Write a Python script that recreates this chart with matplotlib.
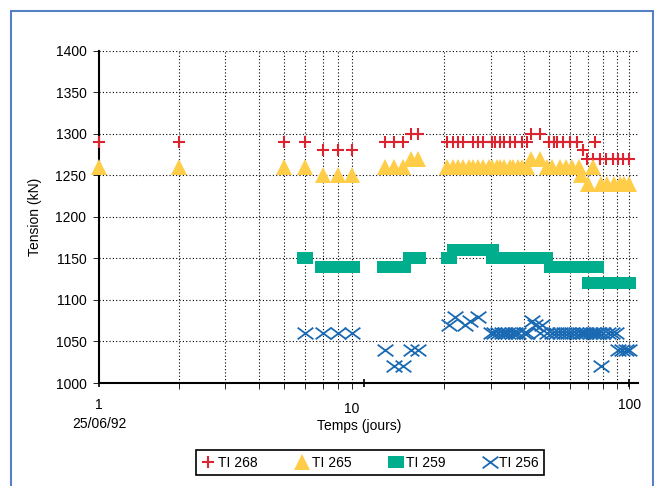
import numpy as np
import matplotlib
matplotlib.use('Agg')
import matplotlib.pyplot as plt
import matplotlib.transforms as mtransforms
from matplotlib.path import Path
from matplotlib.patches import Rectangle

plt.rcParams['font.family'] = ['Liberation Sans', 'DejaVu Sans']
plt.rcParams['font.size'] = 10

# TI 268 (red +)
x268 = [1, 2, 5, 6, 7, 8, 9, 12, 13, 14, 15, 16,
        20.5, 21.6, 22.6, 23.6, 25.7, 27, 28, 30.4, 31.3, 32.6, 33.8, 35.5, 37, 39.5, 41.3,
        42.6, 46.3, 49.8, 52, 53.5, 56.5, 60, 63.8, 66.8, 74.3,
        69.6, 73, 77.7, 82, 86.7, 91, 95.2, 100]
y268 = [1290, 1290, 1290, 1290, 1280, 1280, 1280, 1290, 1290, 1290, 1300, 1300,
        1290, 1290, 1290, 1290, 1290, 1290, 1290, 1290, 1290, 1290, 1290, 1290, 1290, 1290, 1290,
        1300, 1300, 1290, 1290, 1290, 1290, 1290, 1290, 1280, 1290,
        1270, 1270, 1270, 1270, 1270, 1270, 1270, 1270]

# TI 265 (yellow triangles)
x265 = [1, 2, 5, 6, 7, 8, 9, 12, 13, 14, 15, 16,
        20.5, 21.6, 22.6, 23.6, 24.8, 25.7, 27, 28, 29.5, 30.4, 31.6, 32.6, 33.8, 35.5, 36.5, 38, 39.5, 41,
        42.6, 46.3, 49, 51, 55, 58, 61, 64.5, 66, 73,
        70, 78, 82.6, 87.3, 92.5, 96, 100]
y265 = [1260, 1260, 1260, 1260, 1250, 1250, 1250, 1260, 1260, 1260, 1270, 1270,
        1260, 1260, 1260, 1260, 1260, 1260, 1260, 1260, 1260, 1260, 1260, 1260, 1260, 1260, 1260, 1260, 1260, 1260,
        1270, 1270, 1260, 1260, 1260, 1260, 1260, 1260, 1250, 1260,
        1240, 1240, 1240, 1240, 1240, 1240, 1240]

# TI 259 (green squares)
x259 = [6, 7, 8, 9, 12, 13, 14, 15, 16,
        21, 22, 23, 24, 25, 26, 27, 28, 29, 30,
        31, 32, 33, 34, 35, 36, 38, 40, 42, 44, 46, 48,
        51, 54, 57, 60, 63, 66, 69, 72, 75,
        71, 74, 78, 82, 86, 90, 95, 99]
y259 = [1150, 1140, 1140, 1140, 1140, 1140, 1140, 1150, 1150,
        1150, 1160, 1160, 1160, 1160, 1160, 1160, 1160, 1160, 1160,
        1150, 1150, 1150, 1150, 1150, 1150, 1150, 1150, 1150, 1150, 1150, 1150,
        1140, 1140, 1140, 1140, 1140, 1140, 1140, 1140, 1140,
        1120, 1120, 1120, 1120, 1120, 1120, 1120, 1120]

# TI 256 (blue x)
x256 = [6, 7, 8, 9, 12, 13, 14, 15, 16,
        21, 22, 24, 25, 27,
        30, 31, 32, 33, 34, 35, 36, 37, 38, 40, 41, 43, 44, 47,
        46, 49, 51, 53, 55, 57, 59, 61, 63, 65, 67, 69, 71, 73, 75, 77, 80, 83, 86, 89,
        78, 91, 94, 97, 100]
y256 = [1060, 1060, 1060, 1060, 1040, 1020, 1020, 1040, 1040,
        1070, 1080, 1070, 1075, 1080,
        1060, 1060, 1060, 1060, 1060, 1060, 1060, 1060, 1060, 1060, 1060, 1075, 1070, 1070,
        1060, 1060, 1060, 1060, 1060, 1060, 1060, 1060, 1060, 1060, 1060, 1060, 1060, 1060, 1060, 1060, 1060, 1060, 1060, 1060,
        1020, 1040, 1040, 1040, 1040]

yticks = [1000, 1050, 1100, 1150, 1200, 1250, 1300, 1350, 1400]
xgrid = [2, 3, 4, 5, 6, 7, 8, 9, 20, 30, 40, 50, 60, 70, 80, 90, 100]

# wide markers (the scan is stretched sideways)
rect_marker = Path([(-1.4, -1), (1.4, -1), (1.4, 1), (-1.4, 1), (-1.4, -1)])
x_marker = Path([(-1.35, -1), (1.35, 1), (-1.35, 1), (1.35, -1)],
                [Path.MOVETO, Path.LINETO, Path.MOVETO, Path.LINETO])

fig = plt.figure(figsize=(6.54, 4.86), dpi=100)
ax = fig.add_axes([99/654, 1-383/486, (638-99)/654, (383-50.5)/486])

h1, = ax.plot(x268, y268, ls='none', marker='+', ms=8.5, mew=1.5, color='#dc2430',
              label='TI 268', clip_on=False, zorder=3)
h2, = ax.plot(x265, y265, ls='none', marker='^', ms=11, mew=0, color='#ffcd48',
              label='TI 265', clip_on=False, zorder=3)
h3, = ax.plot(x259, y259, ls='none', marker=rect_marker, ms=11.3, mew=0, color='#00ae8e',
              label='TI 259', clip_on=False, zorder=3)
h4, = ax.plot(x256, y256, ls='none', marker=x_marker, ms=11.3, mew=1.3, color='#1a6ab3',
              mfc='none', label='TI 256', clip_on=False, zorder=3)

ax.set_xscale('log')
ax.set_xlim(1, 108)
ax.set_ylim(1000, 1400)
ax.set_yticks(yticks)
ax.set_xticks([1, 10, 100])
ax.set_xticklabels(['1\n25/06/92', '10', '100'], linespacing=1.4)
ax.set_xticks(xgrid, minor=True)
ax.xaxis.remove_overlapping_locs = False
ax.tick_params(axis='x', which='minor', labelbottom=False, length=4, width=0.6, direction='out')
ax.tick_params(axis='x', which='major', length=6, width=1.2, direction='inout', pad=8)
ax.tick_params(axis='y', length=4, width=0.6, direction='out', pad=5)

# the "10" label sits a little left of its decade in the original
lab10 = ax.get_xticklabels()[1]
lab10.set_transform(lab10.get_transform() + mtransforms.ScaledTranslation(-12/100, -4/100, fig.dpi_scale_trans))

ax.grid(True, which='minor', axis='x', ls=(0, (1, 2)), color='black', lw=0.8)
ax.grid(True, which='major', axis='y', ls=(0, (1, 2)), color='black', lw=0.8)
ax.grid(False, which='major', axis='x')
ax.set_axisbelow(True)

for s in ['top', 'right']:
    ax.spines[s].set_visible(False)
ax.spines['left'].set_linewidth(1.5)
ax.spines['bottom'].set_linewidth(1.5)

ax.set_ylabel('Tension (kN)')
ax.yaxis.set_label_coords(-0.106, 0.5)
ax.set_xlabel('Temps (jours)')
ax.xaxis.set_label_coords(0.482, -0.108)

leg = fig.legend(handles=[h1, h2, h3, h4], loc='center', bbox_to_anchor=(0.566, 0.048),
                 ncol=4, fancybox=False, edgecolor='black', framealpha=1,
                 handletextpad=0.2, columnspacing=2.7, handlelength=1.0, borderpad=0.4)
leg.get_frame().set_linewidth(1.2)

# outer blue frame
fig.patches.append(Rectangle((11/654, -0.05), (652.5-11)/654, 1.05 - 11/486,
                             transform=fig.transFigure, fill=False,
                             edgecolor='#5580c4', lw=1.5))

fig.savefig('out.png', dpi=100)
